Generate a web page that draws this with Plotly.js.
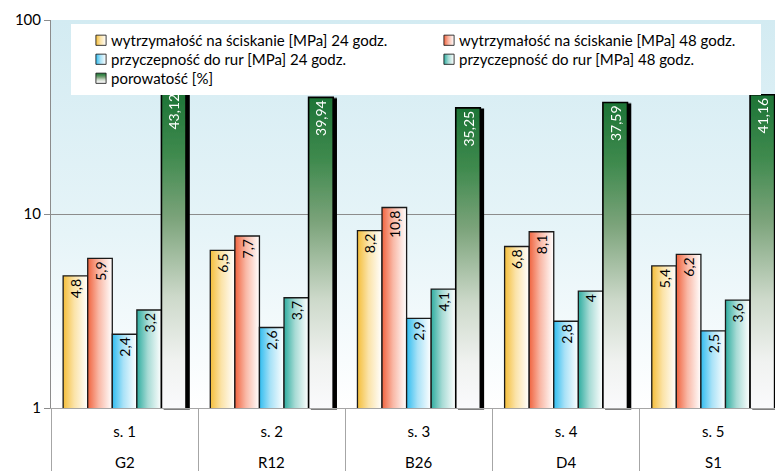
<!DOCTYPE html>
<html>
<head>
<meta charset="utf-8">
<script src="https://cdn.plot.ly/plotly-3.0.1.min.js"></script>
<style>html,body{margin:0;padding:0;background:#fff;}#chart{width:775px;height:471px;}</style>
</head>
<body>
<div id="chart"></div>
<script>
// ---- data ----
const samples = ["s. 1", "s. 2", "s. 3", "s. 4", "s. 5"];
const mixes = ["G2", "R12", "B26", "D4", "S1"];
const seriesNames = [
  "wytrzymałość na ściskanie [MPa] 24 godz.",
  "wytrzymałość na ściskanie [MPa] 48 godz.",
  "przyczepność do rur [MPa] 24 godz.",
  "przyczepność do rur [MPa] 48 godz.",
  "porowatość [%]"
];
const comp24 = [4.8, 6.5, 8.2, 6.8, 5.4];
const comp48 = [5.9, 7.7, 10.8, 8.1, 6.2];
const adh24 = [2.4, 2.6, 2.9, 2.8, 2.5];
const adh48 = [3.2, 3.7, 4.1, 4, 3.6];
const porosity = [43.12, 39.94, 35.25, 37.59, 41.16];
const yTicks = [1, 10, 100];

// ---- styling ----
const FONT = 'Lato, "Open Sans", sans-serif';
const baseColors = ["#f4be3a", "#f0684a", "#3bbdee", "#39b0a4", "#2a7a38"];
const values = [comp24, comp48, adh24, adh48, porosity];
const fmt = v => String(v).replace('.', ',');

const data = values.map((vals, i) => ({
  type: 'bar',
  name: seriesNames[i],
  x: samples,
  y: vals,
  text: vals.map(fmt),
  textposition: 'inside',
  insidetextanchor: 'end',
  textangle: -90,
  constraintext: 'none',
  insidetextfont: {family: FONT, size: 14, color: i === 4 ? '#ffffff' : '#000000'},
  marker: {color: baseColors[i], line: {color: i === 4 ? '#000000' : '#1a1a1a', width: i === 4 ? 1.6 : 1.3}},
  cliponaxis: false,
  hoverinfo: 'skip'
}));

const annotations = mixes.map((m, i) => ({
  x: samples[i], xref: 'x',
  y: -54 / 388, yref: 'paper',
  yanchor: 'middle', xanchor: 'center',
  text: m, showarrow: false,
  font: {family: FONT, size: 15, color: '#000'}
}));

const layout = {
  width: 775, height: 471,
  margin: {l: 51, r: 0, t: 20, b: 63, pad: 0},
  paper_bgcolor: '#ffffff',
  plot_bgcolor: '#e6f3f7',
  font: {family: FONT, size: 15, color: '#000'},
  barmode: 'group',
  bargap: 0.165,
  bargroupgap: 0,
  showlegend: true,
  annotations: annotations,
  legend: {
    orientation: 'h',
    x: 20 / 724, xanchor: 'left',
    y: 1 - 4 / 388, yanchor: 'top',
    bgcolor: '#ffffff',
    borderwidth: 0,
    entrywidth: 303,
    entrywidthmode: 'pixels',
    font: {family: FONT, size: 15, color: '#000'},
    itemwidth: 30,
    traceorder: 'normal',
    tracegroupgap: 0
  },
  xaxis: {
    type: 'category',
    range: [-0.5, 4.42],
    showline: true,
    linecolor: '#a6a6a6',
    linewidth: 1,
    ticks: 'outside',
    tickson: 'boundaries',
    ticklen: 63,
    tickcolor: '#a6a6a6',
    tickwidth: 1,
    ticklabelstandoff: 10,
    showgrid: false,
    tickfont: {family: FONT, size: 15, color: '#000'}
  },
  yaxis: {
    type: 'log',
    range: [0, 2],
    tickvals: yTicks,
    ticktext: yTicks.map(String),
    ticks: 'outside',
    ticklen: 6,
    tickcolor: '#8c8c8c',
    showline: true,
    linecolor: '#8c8c8c',
    linewidth: 1,
    showgrid: true,
    gridcolor: '#8c8c8c',
    gridwidth: 1,
    zeroline: false,
    tickfont: {family: FONT, size: 15, color: '#000'}
  }
};

function parseT(el) {
  const m = /translate\(\s*([-\d.e]+)[ ,]+([-\d.e]+)\s*\)/.exec(el.getAttribute('transform') || '');
  return m ? [parseFloat(m[1]), parseFloat(m[2])] : [0, 0];
}

function decorate(gd) {
  const ns = 'http://www.w3.org/2000/svg';
  const svg = gd.querySelector('svg.main-svg');
  const defs = document.createElementNS(ns, 'defs');
  svg.insertBefore(defs, svg.firstChild);
  const mk = (id, vertical, stops, user) => {
    const g = document.createElementNS(ns, 'linearGradient');
    g.setAttribute('id', id);
    if (user) {
      g.setAttribute('gradientUnits', 'userSpaceOnUse');
      g.setAttribute('x1', '0'); g.setAttribute('x2', '0');
      g.setAttribute('y1', String(user[0])); g.setAttribute('y2', String(user[1]));
    } else {
      g.setAttribute('x1', '0'); g.setAttribute('y1', '0');
      g.setAttribute('x2', vertical ? '0' : '1'); g.setAttribute('y2', vertical ? '1' : '0');
    }
    stops.forEach(s => {
      const st = document.createElementNS(ns, 'stop');
      st.setAttribute('offset', String(s[0]));
      st.setAttribute('stop-color', s[1]);
      g.appendChild(st);
    });
    defs.appendChild(g);
  };
  const greenStops = [[0, '#1d7436'], [0.2, '#3f8a4e'], [0.4, '#7ba37a'], [0.65, '#cdd9ca'], [0.85, '#f0f2f0'], [1, '#fafafc']];
  const gid = ['rskYel', 'rskRed', 'rskBlu', 'rskTea', 'rskGrn'];
  mk(gid[0], false, [[0, '#f4be3a'], [0.45, '#fbe3a8'], [1, '#ffffff']]);
  mk(gid[1], false, [[0, '#f0643f'], [0.45, '#f9b8a6'], [1, '#ffffff']]);
  mk(gid[2], false, [[0, '#31bdf0'], [0.45, '#a9e2f7'], [1, '#ffffff']]);
  mk(gid[3], false, [[0, '#2fada0'], [0.45, '#a7dbd5'], [1, '#ffffff']]);
  mk(gid[4], true, greenStops);
  mk('rskBg', true, [[0, '#d3ebf2'], [0.55, '#e6f4f8'], [1, '#ffffff']]);

  const f = document.createElementNS(ns, 'filter');
  f.setAttribute('id', 'rskShd');
  f.setAttribute('x', '-20%'); f.setAttribute('y', '-5%');
  f.setAttribute('width', '150%'); f.setAttribute('height', '115%');
  const ds = document.createElementNS(ns, 'feDropShadow');
  ds.setAttribute('dx', '3'); ds.setAttribute('dy', '1.5');
  ds.setAttribute('stdDeviation', '0.4');
  ds.setAttribute('flood-color', '#000'); ds.setAttribute('flood-opacity', '1');
  f.appendChild(ds);
  defs.appendChild(f);

  const bg = svg.querySelector('.bglayer rect.bg');
  if (bg) bg.style.fill = 'url(#rskBg)';

  const plotH = gd._fullLayout._size.h;
  const traces = svg.querySelectorAll('.barlayer .trace.bars');
  traces.forEach((t, i) => {
    t.querySelectorAll('.point').forEach((pt, j) => {
      const p = pt.querySelector('path');
      if (!p) return;
      if (i === 4) {
        const m = /M([^,]+),([^V]+)V([^H]+)H/.exec(p.getAttribute('d') || '');
        let top = 0;
        if (m) top = Math.min(parseFloat(m[2]), parseFloat(m[3]));
        const id = 'rskGrnBar' + j;
        mk(id, true, greenStops, [top, plotH]);
        p.style.fill = 'url(#' + id + ')';
        pt.setAttribute('filter', 'url(#rskShd)');
      } else {
        p.style.fill = 'url(#' + gid[i] + ')';
      }
    });
  });

  // legend: gradient swatches, swatch closer to text, tighter rows
  const leg = gd.querySelectorAll('.legend .traces');
  let y0 = null, step = null;
  leg.forEach((t, i) => {
    t.querySelectorAll('.legendpoints path').forEach(p => {
      p.style.fill = 'url(#' + gid[i] + ')';
      p.style.stroke = '#1a1a1a';
      p.style.strokeWidth = '1px';
    });
    const lp = t.querySelector('.legendpoints');
    if (lp) lp.setAttribute('transform', 'translate(13,0) scale(0.85)');
    const [x, y] = parseT(t);
    if (y0 === null) y0 = y;
    else if (step === null && y > y0) step = y - y0;
  });
  const lbg = gd.querySelector('.legend rect.bg');
  if (step) {
    const target = 19;
    leg.forEach(t => {
      const [x, y] = parseT(t);
      const k = Math.round((y - y0) / step);
      t.setAttribute('transform', 'translate(' + x + ',' + (y0 + k * target) + ')');
    });
    if (lbg) {
      const h = parseFloat(lbg.getAttribute('height'));
      lbg.setAttribute('height', String(h - 2 * (step - target)));
    }
  }
  if (lbg) {
    const w = parseFloat(lbg.getAttribute('width'));
    lbg.setAttribute('width', String(Math.min(w, 690)));
  }
}

const gd = document.getElementById('chart');
Plotly.newPlot(gd, data, layout, {staticPlot: true, displayModeBar: false}).then(() => decorate(gd));
</script>
</body>
</html>
